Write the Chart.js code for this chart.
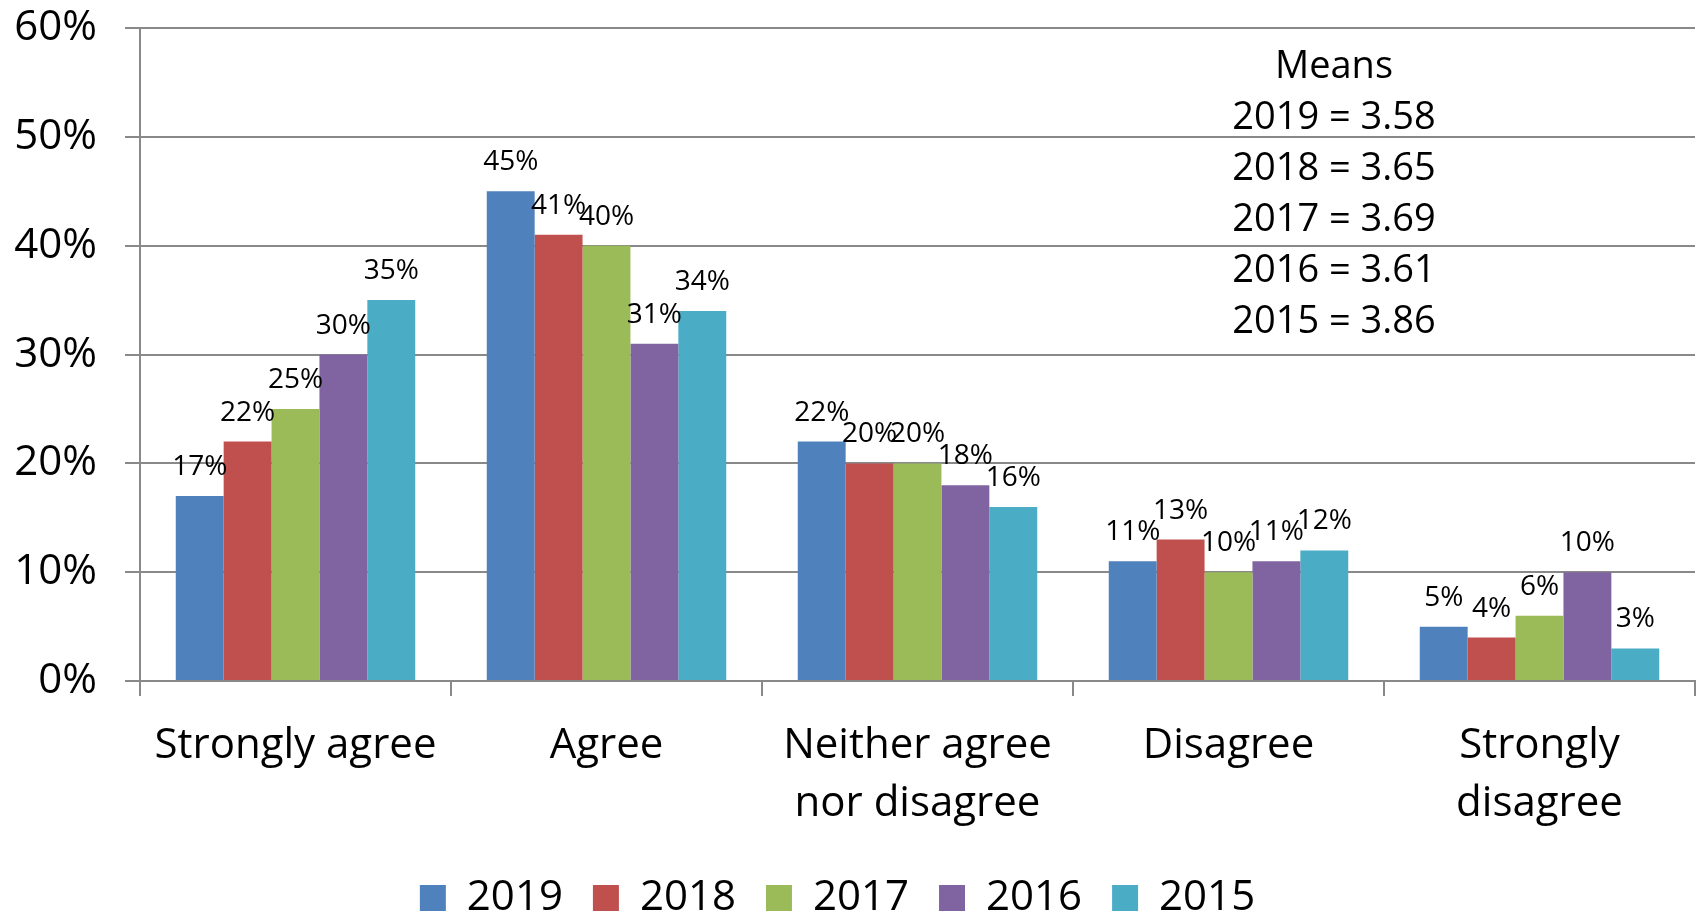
<!DOCTYPE html>
<html>
<head>
<meta charset="utf-8">
<script src="https://cdn.jsdelivr.net/npm/chart.js@4/dist/chart.umd.min.js"></script>
<style>
html,body{margin:0;padding:0;background:#fff;}
#wrap{width:1698px;height:914px;position:relative;}
</style>
</head>
<body>
<div id="wrap"><canvas id="c" width="1698" height="914"></canvas></div>
<script>
const categories = ["Strongly agree", "Agree", ["Neither agree", "nor disagree"], "Disagree", ["Strongly", "disagree"]];
const years = ["2019", "2018", "2017", "2016", "2015"];
const v2019 = [17, 45, 22, 11, 5];
const v2018 = [22, 41, 20, 13, 4];
const v2017 = [25, 40, 20, 10, 6];
const v2016 = [30, 31, 18, 11, 10];
const v2015 = [35, 34, 16, 12, 3];
const yTicks = [0, 10, 20, 30, 40, 50, 60];
const meansTitle = "Means";
const meansLines = ["2019 = 3.58", "2018 = 3.65", "2017 = 3.69", "2016 = 3.61", "2015 = 3.86"];

const colors = ["#4F81BD", "#C0504D", "#9BBB59", "#8064A2", "#4BACC6"];
const series = [v2019, v2018, v2017, v2016, v2015];
const FONT = "'Open Sans', sans-serif";
const GRID = "#898989";

const dataLabels = {
  id: 'dataLabels',
  afterDatasetsDraw(chart) {
    const ctx = chart.ctx;
    ctx.save();
    ctx.font = "28px " + FONT;
    ctx.fillStyle = "#000";
    ctx.textAlign = "center";
    ctx.textBaseline = "middle";
    chart.data.datasets.forEach((ds, i) => {
      const meta = chart.getDatasetMeta(i);
      meta.data.forEach((el, j) => {
        ctx.fillText(ds.data[j] + "%", el.x, el.y - 29);
      });
    });
    ctx.restore();
  }
};

const meansText = {
  id: 'meansText',
  afterDraw(chart) {
    const ctx = chart.ctx;
    ctx.save();
    ctx.font = "38px " + FONT;
    ctx.fillStyle = "#000";
    ctx.textAlign = "center";
    ctx.textBaseline = "middle";
    const x = 1334;
    ctx.fillText(meansTitle, x, 67);
    meansLines.forEach((t, i) => ctx.fillText(t, x, 118 + i * 51));
    ctx.restore();
  }
};

const legendShift = {
  id: 'legendShift',
  afterLayout(chart) {
    const lg = chart.legend;
    if (lg) {
      const d = 15;
      lg.top += d; lg.bottom += d;
      lg.left -= 10; lg.right -= 10;
    }
  }
};

new Chart(document.getElementById('c'), {
  type: 'bar',
  data: {
    labels: categories,
    datasets: years.map((y, i) => ({
      label: y,
      data: series[i],
      backgroundColor: colors[i],
      borderWidth: 0,
      categoryPercentage: 0.77,
      barPercentage: 1.0
    }))
  },
  options: {
    responsive: false,
    animation: false,
    events: [],
    layout: { padding: { top: 28, right: 3, bottom: 0, left: 0 } },
    plugins: {
      legend: {
        position: 'bottom',
        labels: {
          font: { family: FONT, size: 42 },
          color: "#000",
          boxWidth: 26,
          boxHeight: 26,
          padding: 30
        }
      },
      tooltip: { enabled: false },
      title: { display: false }
    },
    scales: {
      x: {
        afterFit(scale) { scale.height = scale.height - 22; },
        grid: {
          offset: true,
          drawOnChartArea: false,
          drawTicks: true,
          tickLength: 15,
          color: GRID,
          lineWidth: 2
        },
        border: { display: true, color: GRID, width: 2 },
        ticks: {
          font: { family: FONT, size: 42, lineHeight: 1.38 },
          color: "#000",
          padding: 21,
          maxRotation: 0,
          autoSkip: false
        }
      },
      y: {
        min: 0,
        max: 60,
        afterBuildTicks(scale) { scale.ticks = yTicks.map(v => ({ value: v })); },
        afterFit(scale) { scale.width = 140; scale.paddingTop = 0; scale.paddingBottom = 0; },
        grid: {
          color: GRID,
          lineWidth: 2,
          drawTicks: true,
          tickLength: 15
        },
        border: { display: true, color: GRID, width: 2 },
        ticks: {
          font: { family: FONT, size: 42 },
          color: "#000",
          padding: 28,
          callback: v => v + "%"
        }
      }
    }
  },
  plugins: [dataLabels, meansText, legendShift]
});
</script>
</body>
</html>
